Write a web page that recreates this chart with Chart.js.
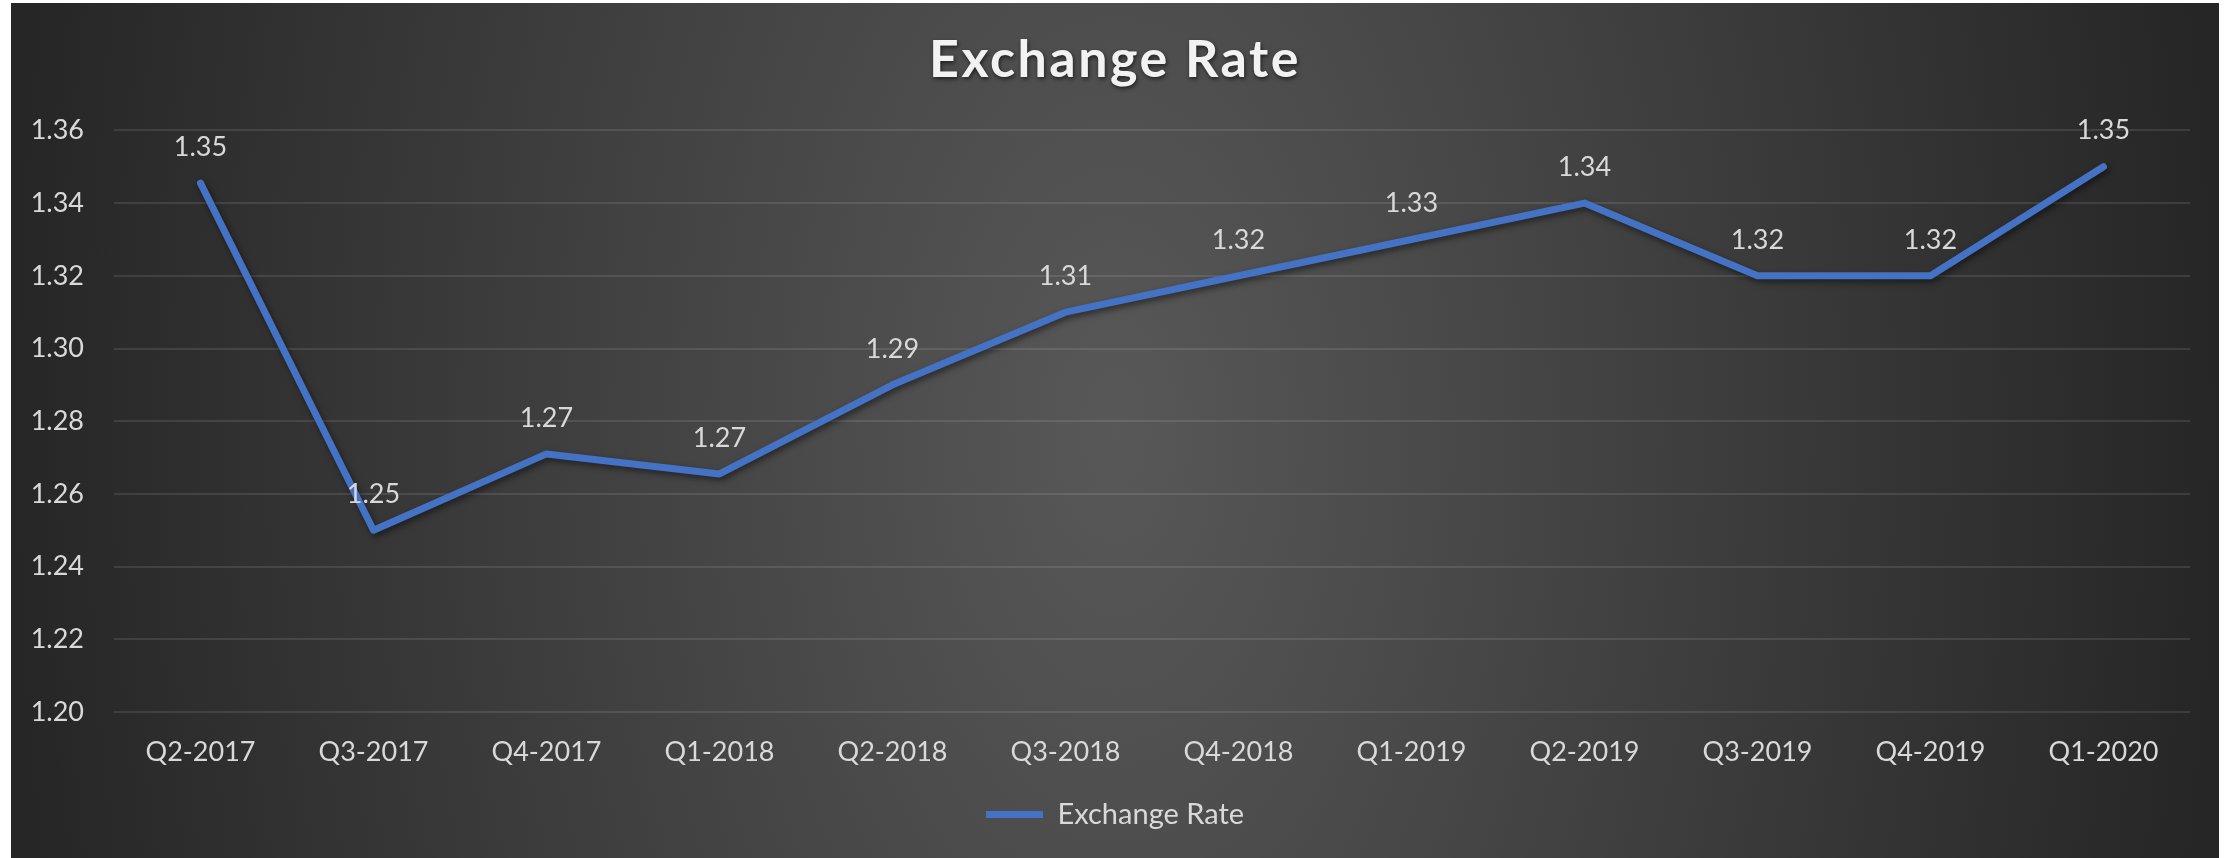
<!DOCTYPE html>
<html>
<head>
<meta charset="utf-8">
<script src="https://cdn.jsdelivr.net/npm/chart.js@4.4.1/dist/chart.umd.min.js"></script>
<style>
  html, body { margin: 0; padding: 0; background: #ffffff; }
  #frame {
    position: absolute;
    left: 11px;
    top: 3px;
    width: 2208px;
    height: 855px;
    background: radial-gradient(1104px 2000px at 50% 50%, #585858 0%, #262626 100%);
  }
</style>
</head>
<body>
<div id="frame"><canvas id="rate"></canvas></div>
<script>
// quarters and exchange rate
var quarters = ["Q2-2017", "Q3-2017", "Q4-2017", "Q1-2018", "Q2-2018", "Q3-2018",
                "Q4-2018", "Q1-2019", "Q2-2019", "Q3-2019", "Q4-2019", "Q1-2020"];
var rates = [1.3455, 1.25, 1.271, 1.2655, 1.29, 1.31, 1.32, 1.33, 1.34, 1.32, 1.32, 1.35];
var yMin = 1.20;
var yMax = 1.36;
var yStep = 0.02;

var fontName = "Lato, 'Open Sans', sans-serif";

function twoDp(v) {
  return (Math.round(v * 100 + 1e-6) / 100).toFixed(2);
}

// value labels above each point
var valueLabels = {
  id: "valueLabels",
  afterDatasetsDraw: function (chart) {
    var ctx = chart.ctx;
    var meta = chart.getDatasetMeta(0);
    ctx.save();
    ctx.font = "27px " + fontName;
    ctx.fillStyle = "#d9d9d9";
    ctx.textAlign = "center";
    ctx.textBaseline = "middle";
    meta.data.forEach(function (pt, i) {
      ctx.fillText(twoDp(rates[i]), pt.x, pt.y - 36);
    });
    ctx.restore();
  },
};

// soft shadow under the line and the title
var shadows = {
  id: "shadows",
  beforeDraw: function (chart) {
    var tb = chart.titleBlock;
    if (tb && !tb._shadowed) {
      var orig = tb.draw.bind(tb);
      tb.draw = function (area) {
        var c = chart.ctx;
        c.save();
        c.letterSpacing = "2.5px";
        c.shadowColor = "rgba(0,0,0,0.6)";
        c.shadowBlur = 4;
        c.shadowOffsetX = 1;
        c.shadowOffsetY = 2;
        orig(area);
        c.restore();
      };
      tb._shadowed = true;
    }
  },
  beforeDatasetDraw: function (chart) {
    var ctx = chart.ctx;
    ctx.save();
    ctx.shadowColor = "rgba(0,0,0,0.5)";
    ctx.shadowBlur = 6;
    ctx.shadowOffsetX = 2;
    ctx.shadowOffsetY = 3;
  },
  afterDatasetDraw: function (chart) {
    chart.ctx.restore();
  },
};

var config = {
  type: "line",
  data: {
    labels: quarters,
    datasets: [
      {
        label: "Exchange Rate",
        data: rates,
        borderColor: "#4472c4",
        backgroundColor: "#4472c4",
        borderWidth: 7,
        borderCapStyle: "round",
        borderJoinStyle: "round",
        pointRadius: 0,
        pointHoverRadius: 0,
        tension: 0,
      },
    ],
  },
  options: {
    responsive: true,
    maintainAspectRatio: false,
    animation: false,
    layout: {
      padding: { top: 0, right: 0, bottom: 19, left: 0 },
    },
    plugins: {
      title: {
        display: true,
        text: "Exchange Rate",
        color: "#f2f2f2",
        font: { family: fontName, size: 52, weight: "bold" },
        padding: { top: 26, bottom: 39 },
      },
      legend: {
        display: true,
        position: "bottom",
        labels: {
          color: "#d9d9d9",
          font: { family: fontName, size: 29 },
          usePointStyle: true,
          pointStyle: "line",
          pointStyleWidth: 57,
          padding: 10,
        },
      },
      tooltip: { enabled: false },
    },
    scales: {
      y: {
        min: yMin,
        max: yMax,
        border: { display: false },
        grid: { color: "rgba(255,255,255,0.1)", lineWidth: 2, drawTicks: false },
        ticks: {
          stepSize: yStep,
          color: "#d9d9d9",
          padding: 30,
          font: { family: fontName, size: 27 },
          callback: function (v) { return Number(v).toFixed(2); },
        },
        afterFit: function (scale) { scale.width = 103; },
      },
      // empty right-hand axis, only to keep the right margin
      yRight: {
        type: "linear",
        position: "right",
        border: { display: false },
        grid: { display: false },
        ticks: { display: false },
        afterFit: function (scale) { scale.width = 29; },
      },
      x: {
        offset: true,
        border: { display: false },
        grid: { display: false },
        ticks: {
          color: "#d9d9d9",
          padding: 16,
          maxRotation: 0,
          font: { family: fontName, size: 27 },
        },
        afterFit: function (scale) { scale.height = 78; },
      },
    },
  },
  plugins: [valueLabels, shadows],
};

var rate_chart = new Chart(document.getElementById("rate").getContext("2d"), config);
</script>
</body>
</html>
